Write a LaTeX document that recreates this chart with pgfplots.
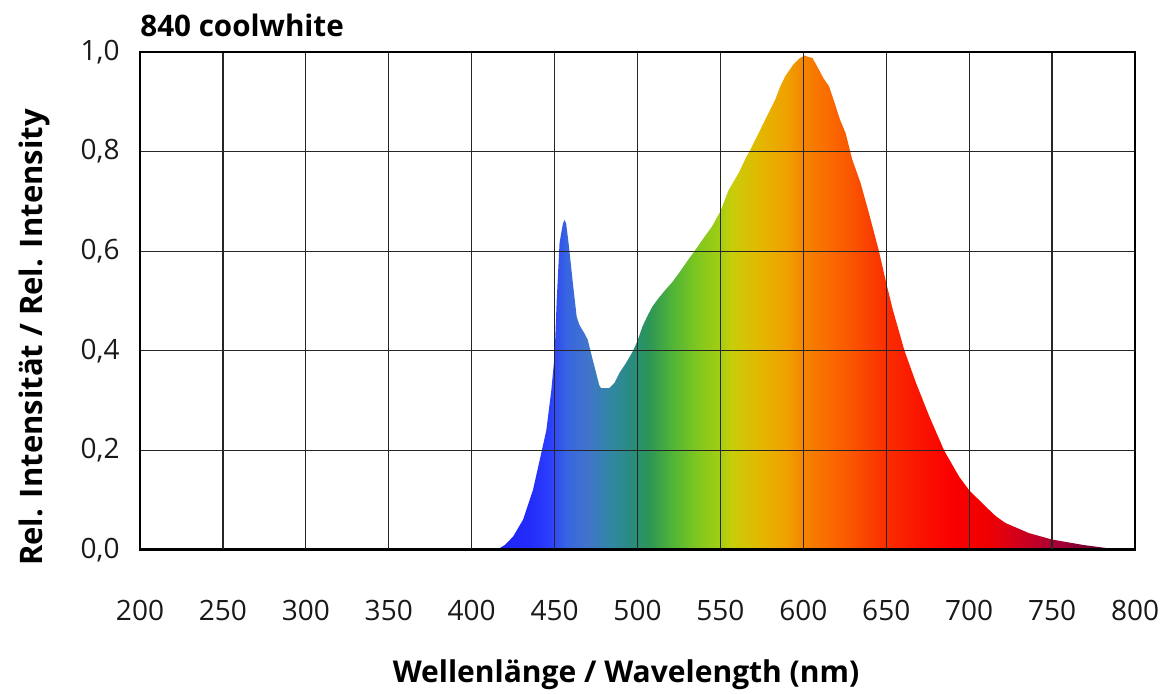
\documentclass[border=0pt]{standalone}
\usepackage{fontspec}
\setmainfont{Open Sans}
\usepackage{pgfplots}
\pgfplotsset{compat=1.18}
\usepackage{pgfplotstable}

\definecolor{sA}{RGB}{25,25,240}
\definecolor{sB}{RGB}{35,45,250}
\definecolor{sC}{RGB}{45,65,250}
\definecolor{sD}{RGB}{55,100,225}
\definecolor{sE}{RGB}{65,115,205}
\definecolor{sF}{RGB}{50,135,165}
\definecolor{sG}{RGB}{40,140,125}
\definecolor{sH}{RGB}{45,150,85}
\definecolor{sI}{RGB}{80,180,55}
\definecolor{sJ}{RGB}{130,200,30}
\definecolor{sK}{RGB}{160,205,20}
\definecolor{sL}{RGB}{200,205,10}
\definecolor{sM}{RGB}{225,185,0}
\definecolor{sN}{RGB}{240,160,0}
\definecolor{sO}{RGB}{245,128,0}
\definecolor{sP}{RGB}{250,108,0}
\definecolor{sQ}{RGB}{250,85,0}
\definecolor{sR}{RGB}{250,45,0}
\definecolor{sS}{RGB}{250,20,0}
\definecolor{sT}{RGB}{250,0,0}
\definecolor{sU}{RGB}{240,0,0}
\definecolor{sV}{RGB}{220,0,20}
\definecolor{sW}{RGB}{190,0,40}
\definecolor{sX}{RGB}{160,0,55}
\definecolor{sY}{RGB}{120,0,50}
\definecolor{sZ}{RGB}{90,0,45}

\pgfdeclarehorizontalshading{spectrum}{100bp}{%
color(0bp)=(sA);
color(25bp)=(sA);
color(29.5bp)=(sB);
color(31bp)=(sC);
color(32.1bp)=(sD);
color(33.6bp)=(sE);
color(35.4bp)=(sF);
color(37.1bp)=(sG);
color(38.4bp)=(sH);
color(40.1bp)=(sI);
color(42.1bp)=(sJ);
color(43.6bp)=(sK);
color(44.6bp)=(sL);
color(46.6bp)=(sM);
color(48.75bp)=(sN);
color(50.25bp)=(sO);
color(51.75bp)=(sP);
color(53.6bp)=(sQ);
color(56.25bp)=(sR);
color(58.75bp)=(sS);
color(61.25bp)=(sT);
color(63.75bp)=(sU);
color(65.4bp)=(sV);
color(67.6bp)=(sW);
color(69.4bp)=(sX);
color(71.4bp)=(sY);
color(75bp)=(sZ);
color(100bp)=(sZ)}

\pgfplotstableread{
x y
400 0
410 0.001
417 0.004
420 0.010
425 0.027
431 0.061
437 0.121
442 0.195
445 0.240
448 0.320
450 0.390
451.3 0.503
453 0.617
455 0.655
456 0.663
457 0.655
458.4 0.617
461 0.537
463.3 0.469
465 0.452
466 0.446
468 0.435
470 0.422
473 0.382
477 0.330
478 0.325
483 0.325
486 0.335
489 0.355
493 0.375
497 0.398
500 0.420
503 0.449
506 0.470
509 0.489
513 0.507
517 0.523
521 0.538
525 0.556
530 0.580
535 0.603
540 0.627
545 0.650
550 0.680
555 0.723
561 0.757
565 0.785
569 0.810
573 0.837
577 0.864
583 0.904
586 0.930
589 0.951
594 0.975
598 0.988
601 0.993
603 0.990
605.5 0.988
609.5 0.964
612 0.948
615.5 0.931
619.5 0.891
622 0.865
625.5 0.837
629.5 0.784
634.5 0.737
639.5 0.677
645.6 0.600
650 0.536
654 0.482
661 0.400
668 0.335
676 0.268
685 0.199
694 0.147
700 0.120
710 0.087
716 0.068
722 0.054
736 0.034
750 0.021
769 0.010
785 0.003
795 0.001
800 0
}\spectrum

\begin{document}
\begin{tikzpicture}
\begin{axis}[
  at={(70pt,71.5pt)}, anchor=south west,
  scale only axis, width=497.5pt, height=249pt,
  xmin=200, xmax=800, ymin=0, ymax=1,
  xtick={200,250,...,800},
  ytick={0,0.2,...,1.0},
  major tick length=0pt,
  grid=major,
  grid style={line width=0.6pt, black!85},
  axis line style={line width=1pt, black},
  axis on top,
  /pgf/number format/assume math mode=true,
  tick label style={font=\fontsize{14}{16}\selectfont, inner sep=0pt, text=black!90},
  xticklabel style={anchor=north, yshift=-25pt},
  yticklabel style={anchor=east, xshift=-10pt,
    /pgf/number format/.cd, fixed, fixed zerofill, precision=1, use comma},
  clip=true,
]
\addplot[draw=none, shading=spectrum] table[x=x, y=y] {\spectrum} \closedcycle;
\draw[line width=1.6pt] (rel axis cs:0,0) -- (rel axis cs:1,0);
\end{axis}
\node[anchor=base west, inner sep=0pt, font=\bfseries\fontsize{14.8}{17}\selectfont] at (70pt,328.5pt) {840 coolwhite};
\node[anchor=base, inner sep=0pt, font=\bfseries\fontsize{15}{18}\selectfont] at (313pt,5.5pt) {Wellenlänge / Wavelength (nm)};
\node[anchor=base, inner sep=0pt, rotate=90, font=\bfseries\fontsize{15.5}{18}\selectfont] at (21.5pt,177.75pt) {Rel. Intensität / Rel. Intensity};
\pgfresetboundingbox
\path[use as bounding box] (0,0) rectangle (582.5pt,346.5pt);
\end{tikzpicture}
\end{document}
